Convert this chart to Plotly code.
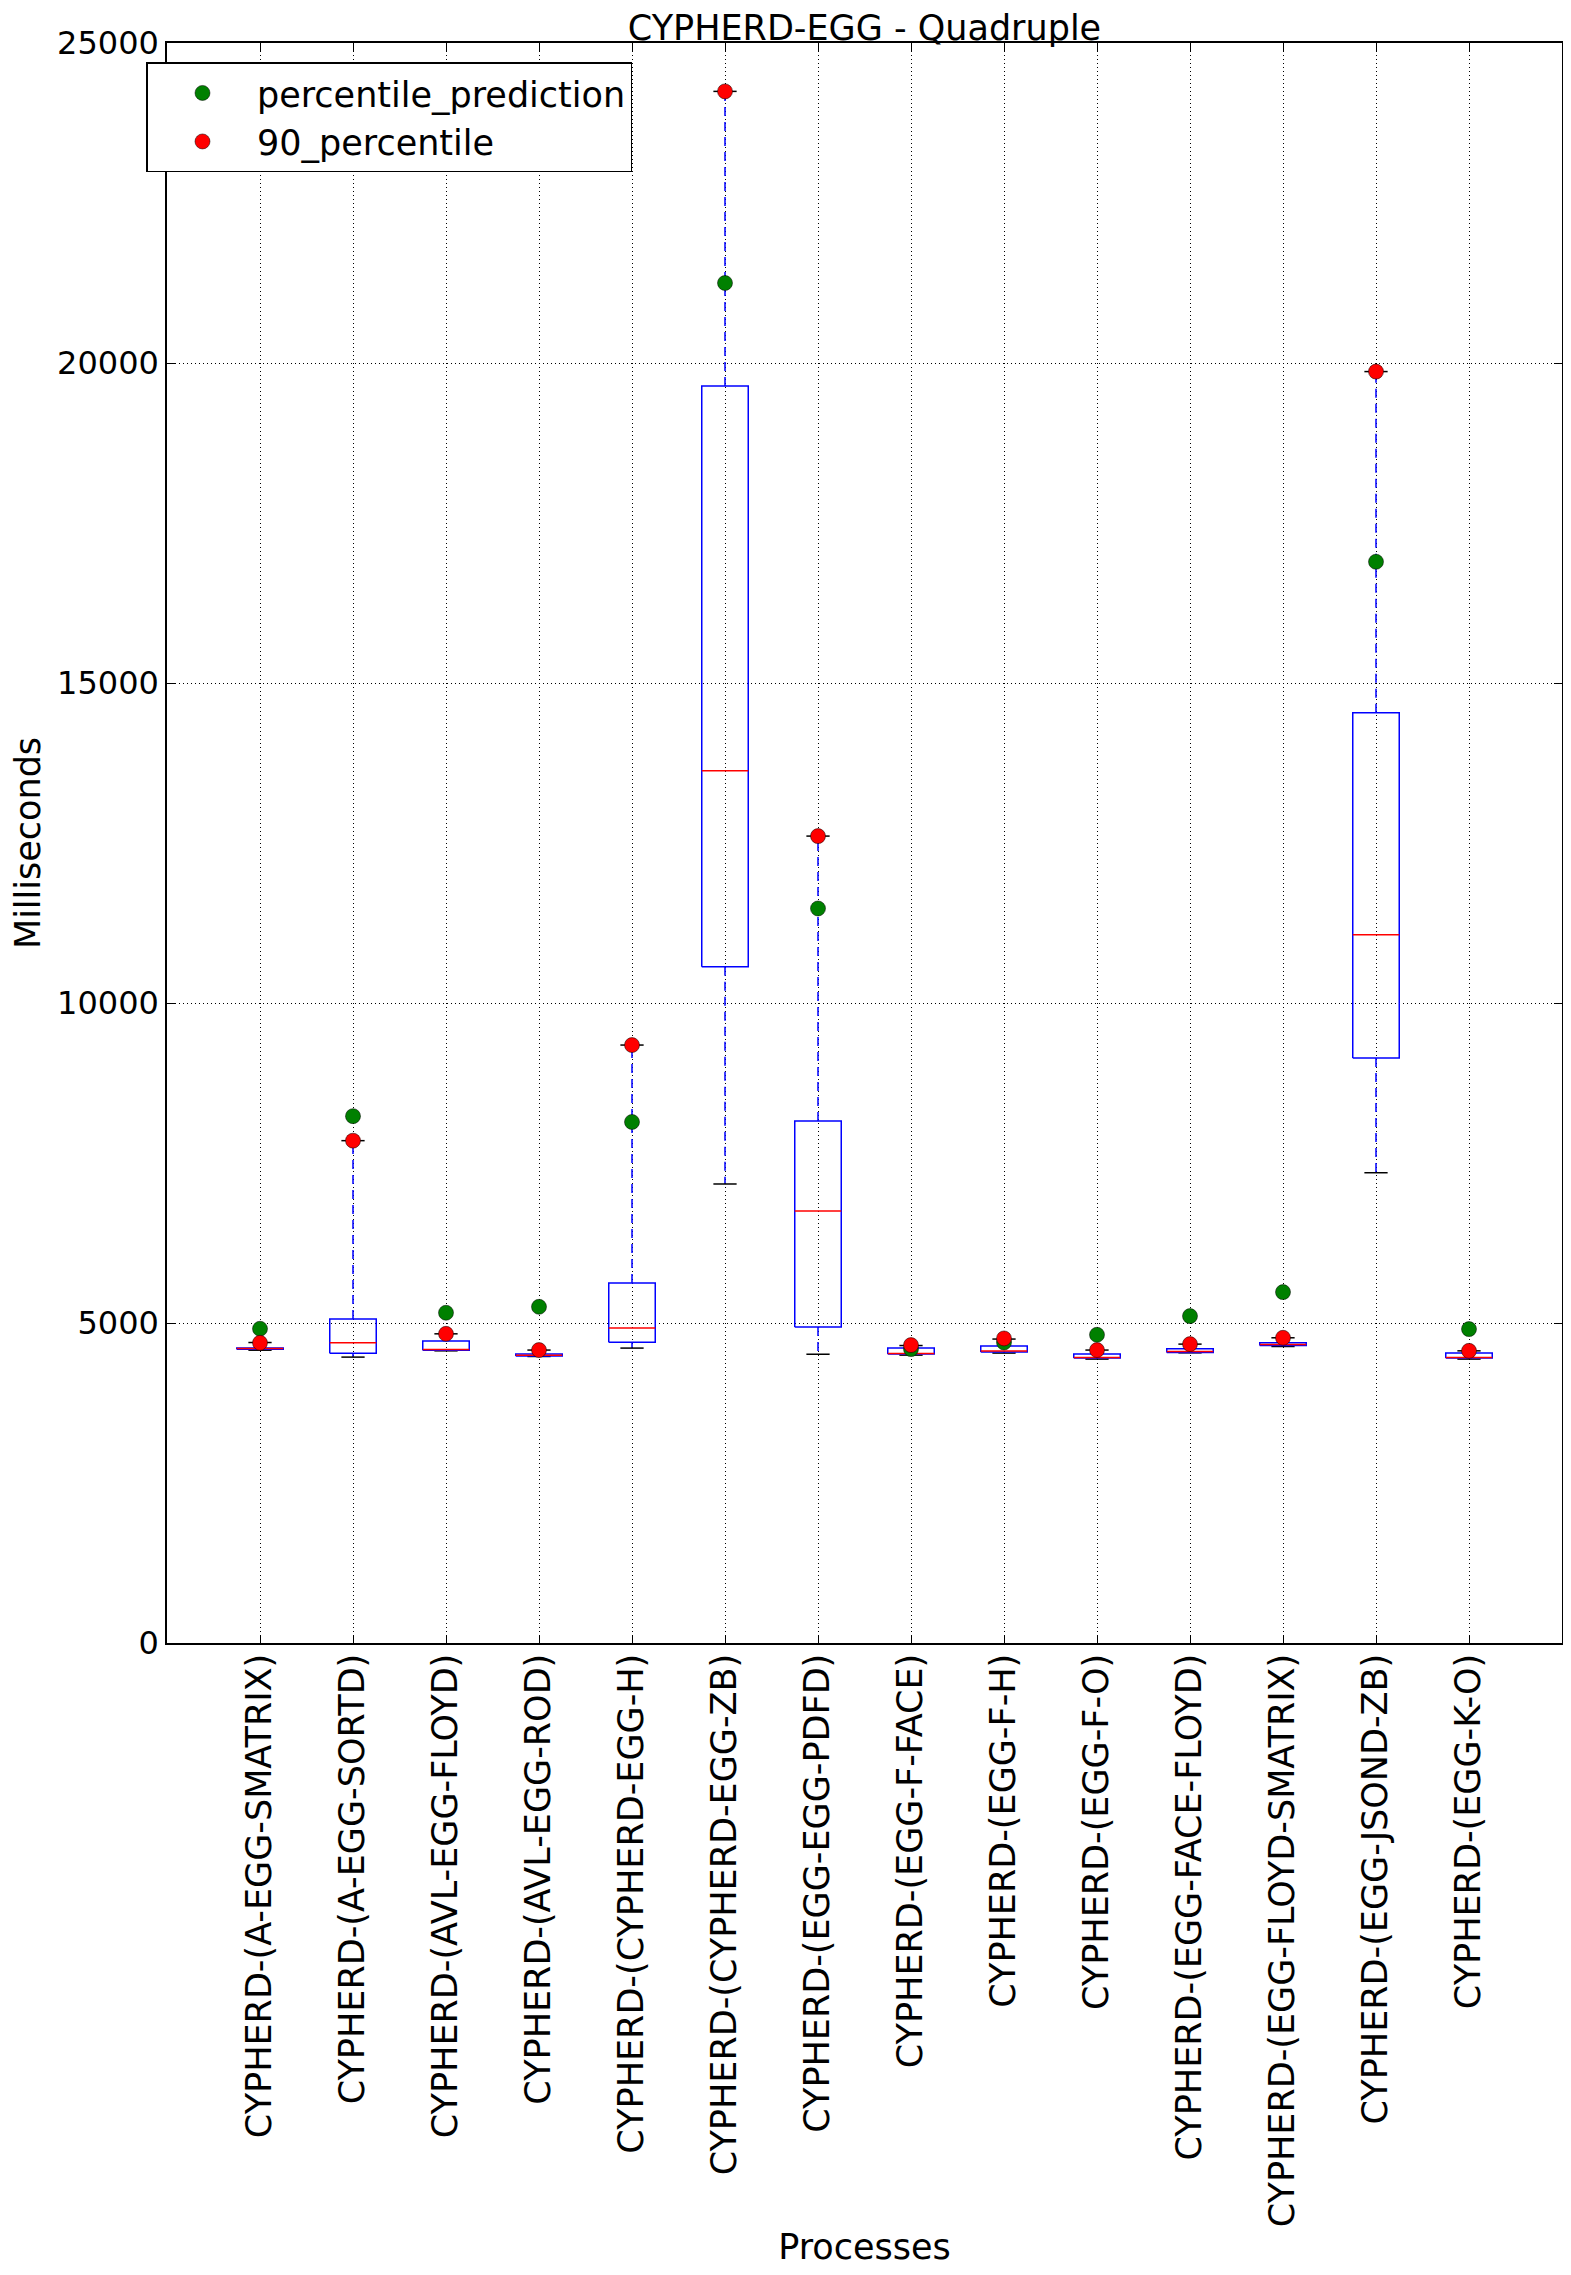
import plotly.graph_objects as go

categories = [
    "CYPHERD-(A-EGG-SMATRIX)", "CYPHERD-(A-EGG-SORTD)", "CYPHERD-(AVL-EGG-FLOYD)",
    "CYPHERD-(AVL-EGG-ROD)", "CYPHERD-(CYPHERD-EGG-H)", "CYPHERD-(CYPHERD-EGG-ZB)",
    "CYPHERD-(EGG-EGG-PDFD)", "CYPHERD-(EGG-F-FACE)", "CYPHERD-(EGG-F-H)",
    "CYPHERD-(EGG-F-O)", "CYPHERD-(EGG-FACE-FLOYD)", "CYPHERD-(EGG-FLOYD-SMATRIX)",
    "CYPHERD-(EGG-JSOND-ZB)", "CYPHERD-(EGG-K-O)",
]
lower_whisker = [4575, 4467, 4565, 4477, 4608, 7172, 4512, 4498, 4530, 4436, 4534, 4633, 7348, 4436]
q1 = [4590, 4529, 4576, 4483, 4701, 10567, 4936, 4514, 4545, 4452, 4540, 4649, 9139, 4452]
median = [4600, 4690, 4586, 4498, 4920, 13629, 6750, 4524, 4561, 4462, 4555, 4665, 11066, 4462]
q3 = [4610, 5061, 4717, 4514, 5624, 19640, 8157, 4608, 4639, 4514, 4597, 4691, 14537, 4530]
upper_whisker = [4695, 7849, 4831, 4577, 9343, 24244, 12608, 4648, 4749, 4577, 4670, 4769, 19866, 4565]
percentile_prediction = [4910, 8232, 5160, 5253, 8141, 21250, 11477, 4592, 4696, 4816, 5108, 5483, 16894, 4905]
percentile_90 = [4690, 7849, 4831, 4577, 9343, 24244, 12608, 4655, 4759, 4577, 4670, 4769, 19866, 4565]
y_ticks = [0, 5000, 10000, 15000, 20000, 25000]

positions = list(range(1, len(categories) + 1))
BOX_HALF = 0.25
CAP_HALF = 0.125

box_x, box_y = [], []
med_x, med_y = [], []
wh_x, wh_y = [], []
cap_x, cap_y = [], []
for p, lw, a, m, b, uw in zip(positions, lower_whisker, q1, median, q3, upper_whisker):
    box_x += [p - BOX_HALF, p + BOX_HALF, p + BOX_HALF, p - BOX_HALF, p - BOX_HALF, None]
    box_y += [a, a, b, b, a, None]
    med_x += [p - BOX_HALF, p + BOX_HALF, None]
    med_y += [m, m, None]
    wh_x += [p, p, None, p, p, None]
    wh_y += [b, uw, None, a, lw, None]
    cap_x += [p - CAP_HALF, p + CAP_HALF, None, p - CAP_HALF, p + CAP_HALF, None]
    cap_y += [uw, uw, None, lw, lw, None]

FONT = "DejaVu Sans"
FS = 35
W, H = 1563, 2267  # page body adds an 8px offset

fig = go.Figure()
fig.add_trace(go.Scatter(x=wh_x, y=wh_y, mode="lines", showlegend=False, hoverinfo="skip",
                         line=dict(color="#0000ff", width=1.5, dash="9px,6px")))
fig.add_trace(go.Scatter(x=cap_x, y=cap_y, mode="lines", showlegend=False, hoverinfo="skip",
                         line=dict(color="#000000", width=1.5)))
fig.add_trace(go.Scatter(x=box_x, y=box_y, mode="lines", showlegend=False, hoverinfo="skip",
                         line=dict(color="#0000ff", width=1.5)))
fig.add_trace(go.Scatter(x=med_x, y=med_y, mode="lines", showlegend=False, hoverinfo="skip",
                         line=dict(color="#ff0000", width=1.5)))
fig.add_trace(go.Scatter(x=positions, y=percentile_prediction, mode="markers",
                         name="percentile_prediction",
                         marker=dict(color="#008000", size=15, line=dict(color="#000000", width=0.5))))
fig.add_trace(go.Scatter(x=positions, y=percentile_90, mode="markers",
                         name="90_percentile",
                         marker=dict(color="#ff0000", size=15, line=dict(color="#000000", width=0.5))))

axis_common = dict(
    showline=True, linecolor="#000000", linewidth=1.5, mirror="allticks",
    ticks="inside", ticklen=8, tickcolor="#000000", tickwidth=1,
    showgrid=True, gridcolor="#000000", gridwidth=1, griddash="1px,3px",
    zeroline=False, automargin=False,
)

fig.update_layout(
    width=W, height=H,
    margin=dict(l=159, r=9, t=35, b=632, autoexpand=False),
    paper_bgcolor="#ffffff", plot_bgcolor="#ffffff",
    font=dict(family=FONT, size=FS, color="#000000"),
    title=dict(text="CYPHERD-EGG - Quadruple", x=0.5, xref="paper", xanchor="center",
               y=1 - 20 / H, yref="container", yanchor="middle",
               font=dict(family=FONT, size=FS, color="#000000")),
    xaxis=dict(range=[0, len(categories) + 1], tickmode="array", tickvals=positions,
               ticktext=categories, tickangle=-90, ticklabelstandoff=-5,
               tickfont=dict(family=FONT, size=FS, color="#000000"),
               title=dict(text="Processes", standoff=8, font=dict(family=FONT, size=FS)),
               **axis_common),
    yaxis=dict(range=[0, 25000], tickmode="array", tickvals=y_ticks,
               ticktext=[str(v) for v in y_ticks],
               tickfont=dict(family=FONT, size=32, color="#000000"),
               title=dict(text="Milliseconds", standoff=8, font=dict(family=FONT, size=FS)),
               **axis_common),
    legend=dict(x=-0.0147, y=0.988, xanchor="left", yanchor="top",
                bgcolor="#ffffff", bordercolor="#000000", borderwidth=1.5,
                itemwidth=99,
                font=dict(family=FONT, size=FS, color="#000000")),
    showlegend=True,
)

fig.write_html("out.html")
